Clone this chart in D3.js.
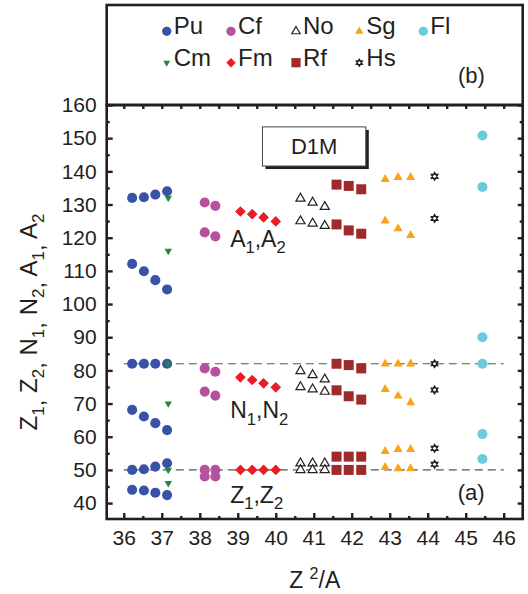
<!DOCTYPE html>
<html><head><meta charset="utf-8">
<script src="https://cdn.jsdelivr.net/npm/d3@7"></script>
<style>
html,body{margin:0;padding:0;background:#fff;}
svg{display:block;font-family:"Liberation Sans",Arial,Helvetica,sans-serif;}
</style></head><body>
<svg id="chart" width="528" height="594"></svg>
<script>
// ---------- data: fission fragment Z, N, A versus Z^2/A (D1M) ----------
const puX  = [36.22, 36.53, 36.83, 37.14];
const puA1 = [132.0, 132.2, 133.0, 134.0];
const puA2 = [112.1, 109.9, 107.2, 104.4];
const puN1 = [82, 82, 82, 82];
const puN2 = [68.1, 66.1, 64.1, 62.0];
const puZ1 = [50.0, 50.2, 51.0, 52.0];
const puZ2 = [44.0, 43.8, 43.1, 42.4];

const cmX  = [37.17];
const cmA1 = [132];
const cmA2 = [116];
const cmN1 = [82];
const cmN2 = [70];
const cmZ1 = [50];
const cmZ2 = [46];

const cfX  = [38.13, 38.41];
const cfA1 = [130.6, 129.6];
const cfA2 = [121.6, 120.4];
const cfN1 = [80.6, 79.6];
const cfN2 = [73.6, 72.4];
const cfZ1 = [50, 50];
const cfZ2 = [48, 48];

const fmX  = [39.07, 39.38, 39.68, 40.0];
const fmA1 = [127.9, 127.1, 126.1, 124.9];
const fmA2 = [127.9, 127.1, 126.1, 124.9];
const fmN1 = [77.9, 77.1, 76.1, 74.9];
const fmN2 = [77.9, 77.1, 76.1, 74.9];
const fmZ1 = [50, 50, 50, 50];
const fmZ2 = [50, 50, 50, 50];

const noX  = [40.65, 40.97, 41.29];
const noA1 = [131.8, 130.6, 129.3];
const noA2 = [125.0, 124.3, 123.6];
const noN1 = [79.8, 78.6, 77.3];
const noN2 = [75.0, 74.3, 73.6];
const noZ1 = [52, 52, 52];
const noZ2 = [50, 50, 50];

const rfX  = [41.60, 41.92, 42.25];
const rfA1 = [136.0, 135.6, 134.6];
const rfA2 = [124.0, 122.2, 121.2];
const rfN1 = [82.0, 81.6, 80.6];
const rfN2 = [74.0, 72.2, 71.2];
const rfZ1 = [54, 54, 54];
const rfZ2 = [50, 50, 50];

const sgX  = [42.88, 43.22, 43.55];
const sgA1 = [137.6, 138.2, 138.2];
const sgA2 = [125.1, 122.7, 120.7];
const sgN1 = [82, 82, 82];
const sgN2 = [74.3, 72.3, 70.3];
const sgZ1 = [55.6, 56.2, 56.2];
const sgZ2 = [50.8, 50.4, 50.4];

const hsX  = [44.18];
const hsA1 = [138.5];
const hsA2 = [125.8];
const hsN1 = [82];
const hsN2 = [74.1];
const hsZ1 = [56.5];
const hsZ2 = [51.7];

const flX  = [45.44];
const flA1 = [150.8];
const flA2 = [135.3];
const flN1 = [90];
const flN2 = [82];
const flZ1 = [60.8];
const flZ2 = [53.3];

const xTicks = [36, 37, 38, 39, 40, 41, 42, 43, 44, 45, 46];
const yTicks = [40, 50, 60, 70, 80, 90, 100, 110, 120, 130, 140, 150, 160];
const magicLines = [82, 50];

// legend rows, in reading order
const legendRow1 = ["Pu", "Cf", "No", "Sg", "Fl"];
const legendRow2 = ["Cm", "Fm", "Rf", "Hs"];

// ---------- series table ----------
const series = [
  {name:"Pu", x:puX, vals:[puA1,puA2,puN1,puN2,puZ1,puZ2]},
  {name:"Cm", x:cmX, vals:[cmA1,cmA2,cmN1,cmN2,cmZ1,cmZ2]},
  {name:"Cf", x:cfX, vals:[cfA1,cfA2,cfN1,cfN2,cfZ1,cfZ2]},
  {name:"Fm", x:fmX, vals:[fmA1,fmA2,fmN1,fmN2,fmZ1,fmZ2]},
  {name:"No", x:noX, vals:[noA1,noA2,noN1,noN2,noZ1,noZ2]},
  {name:"Rf", x:rfX, vals:[rfA1,rfA2,rfN1,rfN2,rfZ1,rfZ2]},
  {name:"Sg", x:sgX, vals:[sgA1,sgA2,sgN1,sgN2,sgZ1,sgZ2]},
  {name:"Hs", x:hsX, vals:[hsA1,hsA2,hsN1,hsN2,hsZ1,hsZ2]},
  {name:"Fl", x:flX, vals:[flA1,flA2,flN1,flN2,flZ1,flZ2]}
];

// ---------- marker styles ----------
const hexagram = {
  draw(ctx, size) {
    const r = Math.sqrt(size) * 0.62;
    for (const off of [-90, 90]) {
      for (let i = 0; i < 3; i++) {
        const a = (off + i * 120) * Math.PI / 180;
        const px = r * Math.cos(a), py = r * Math.sin(a);
        if (i === 0) ctx.moveTo(px, py); else ctx.lineTo(px, py);
      }
      ctx.closePath();
    }
  }
};
const style = {
  Pu: {type:d3.symbolCircle,   size:80, fill:"#3752a6", stroke:"none", rot:0},
  Cm: {type:d3.symbolTriangle, size:24, fill:"#1f8a3e", stroke:"none", rot:180},
  Cf: {type:d3.symbolCircle,   size:80, fill:"#b5519f", stroke:"none", rot:0},
  Fm: {type:d3.symbolSquare,   size:52, fill:"#ec1c24", stroke:"none", rot:45},
  No: {type:d3.symbolTriangle, size:36, fill:"#fff",    stroke:"#231f20", rot:0},
  Rf: {type:d3.symbolSquare,   size:100,fill:"#9e2a2b", stroke:"none", rot:0},
  Sg: {type:d3.symbolTriangle, size:36, fill:"#f6a31e", stroke:"none", rot:0},
  Hs: {type:hexagram,          size:40, fill:"none",    stroke:"#231f20", rot:0},
  Fl: {type:d3.symbolCircle,   size:80, fill:"#6bcbdc", stroke:"none", rot:0}
};

// ---------- layout ----------
const ink = "#231f20";
const svg = d3.select("#chart");
const L = 106.7, R = 522.7, T = 105, B = 519;
const x = d3.scaleLinear().domain([35.55, 46.5]).range([L, R]);
const y = d3.scaleLinear().domain([35.2, 160]).range([B, T]);

// legend panel (b)
svg.append("rect").attr("x", L).attr("y", 5).attr("width", R - L).attr("height", T - 5)
  .attr("fill", "none").attr("stroke", ink).attr("stroke-width", 2.6);

// magic-number guide lines
svg.append("g").selectAll("line").data(magicLines).join("line")
  .attr("x1", x(36)).attr("x2", x(46))
  .attr("y1", d => y(d)).attr("y2", d => y(d))
  .attr("stroke", "#555").attr("stroke-width", 1.1).attr("stroke-dasharray", "8,5");

// axes with inward ticks
function styleAxis(g) {
  g.select(".domain").remove();
  g.selectAll(".tick line").attr("stroke", ink).attr("stroke-width", 2.4);
  g.selectAll(".tick text").attr("fill", ink).attr("font-size", 21)
    .attr("font-family", '"Liberation Sans", Arial, sans-serif');
}
const halfX = d3.range(35.5, 46.6, 0.5).filter(v => v > 35.55 && v < 46.5 && v % 1 !== 0);
const fiveY = d3.range(45, 160, 10);

svg.append("g").attr("transform", `translate(0,${B})`)
  .call(d3.axisBottom(x).tickValues(xTicks).tickSize(-6).tickPadding(11).tickFormat(d3.format("d")))
  .call(styleAxis);
svg.append("g").attr("transform", `translate(0,${B})`)
  .call(d3.axisBottom(x).tickValues(halfX).tickSize(-3).tickFormat(""))
  .call(styleAxis);
svg.append("g").attr("transform", `translate(0,${T})`)
  .call(d3.axisTop(x).tickValues(xTicks.concat(halfX)).tickSize(-4).tickFormat(""))
  .call(styleAxis);
svg.append("g").attr("transform", `translate(${L},0)`)
  .call(d3.axisLeft(y).tickValues(yTicks).tickSize(-6).tickPadding(10).tickFormat(d3.format("d")))
  .call(styleAxis);
svg.append("g").attr("transform", `translate(${L},0)`)
  .call(d3.axisLeft(y).tickValues(fiveY).tickSize(-3).tickFormat(""))
  .call(styleAxis);
svg.append("g").attr("transform", `translate(${R},0)`)
  .call(d3.axisRight(y).tickValues(yTicks).tickSize(-5).tickFormat(""))
  .call(styleAxis);
svg.append("g").attr("transform", `translate(${R},0)`)
  .call(d3.axisRight(y).tickValues(fiveY).tickSize(-3).tickFormat(""))
  .call(styleAxis);

// plot frame (a)
svg.append("rect").attr("x", L).attr("y", T).attr("width", R - L).attr("height", B - T)
  .attr("fill", "none").attr("stroke", ink).attr("stroke-width", 2.6);

// model label box with drop shadow
const box = {x0: 39.65, x1: 42.37, y0: 153.4, y1: 141.6};
svg.append("rect").attr("x", x(box.x0) + 3).attr("y", y(box.y0) + 3)
  .attr("width", x(box.x1) - x(box.x0)).attr("height", y(box.y1) - y(box.y0)).attr("fill", ink);
svg.append("rect").attr("x", x(box.x0)).attr("y", y(box.y0))
  .attr("width", x(box.x1) - x(box.x0)).attr("height", y(box.y1) - y(box.y0))
  .attr("fill", "#fff").attr("stroke", "#444").attr("stroke-width", 1);
svg.append("text").attr("x", (x(box.x0) + x(box.x1)) / 2).attr("y", y(147.5) + 8)
  .attr("text-anchor", "middle").attr("font-size", 22).attr("fill", ink).text("D1M");

// markers
const sym = d3.symbol();
const pts = [];
series.forEach(s => s.vals.forEach(arr => arr.forEach((v, i) => pts.push({name: s.name, x: s.x[i], y: v}))));
svg.append("g").selectAll("path").data(pts).join("path")
  .attr("d", d => sym.type(style[d.name].type).size(style[d.name].size)())
  .attr("transform", d => `translate(${x(d.x)},${y(d.y)}) rotate(${style[d.name].rot})`)
  .attr("fill", d => style[d.name].fill)
  .attr("stroke", d => style[d.name].stroke)
  .attr("stroke-width", 1.2);

// group labels with subscripts
function subLabel(px, py, parts, fs) {
  const t = svg.append("text").attr("x", px).attr("y", py).attr("font-size", fs).attr("fill", ink);
  parts.forEach(p => {
    const ts = t.append("tspan").text(p[0]);
    if (p[1] === "sub") ts.attr("font-size", fs * 0.72).attr("dy", fs * 0.28);
    else if (p[1] === "back") ts.attr("dy", -fs * 0.28);
  });
  return t;
}
const grp = [["A", "A"], ["N", "N"], ["Z", "Z"]];
const grpY = [117.3, 65.5, 40.1];
grp.forEach((g, k) => {
  subLabel(x(38.80), y(grpY[k]), [[g[0]], ["1", "sub"], [",", "back"], [g[1]], ["2", "sub"]], 23);
});

svg.append("text").attr("x", x(44.79)).attr("y", y(40.9)).attr("font-size", 22).attr("fill", ink).text("(a)");
svg.append("text").attr("x", 458).attr("y", 83).attr("font-size", 22).attr("fill", ink).text("(b)");

// axis titles
const xt = svg.append("text").attr("x", (L + R) / 2 + 0).attr("y", 588)
  .attr("text-anchor", "middle").attr("font-size", 23).attr("fill", ink);
xt.append("tspan").text("Z ");
xt.append("tspan").text("2").attr("font-size", 16).attr("dy", -9);
xt.append("tspan").text("/A").attr("dy", 9);

const yt = svg.append("text").attr("transform", `translate(37,${(T + B) / 2 + 10}) rotate(-90)`)
  .attr("text-anchor", "middle").attr("font-size", 24).attr("fill", ink);
[["Z", "1"], ["Z", "2"], ["N", "1"], ["N", "2"], ["A", "1"], ["A", "2"]].forEach((p, i) => {
  yt.append("tspan").text(p[0]).attr("dy", i === 0 ? 0 : -7);
  yt.append("tspan").text(p[1]).attr("font-size", 17).attr("dy", 7);
  if (i < 5) yt.append("tspan").text(", ");
});

// legend
const legX = [166.7, 231, 296, 359.3, 423.3];
const legBase = [34.3, 65.7];
[legendRow1, legendRow2].forEach((row, r) => {
  row.forEach((name, c) => {
    const st = style[name];
    svg.append("path")
      .attr("d", sym.type(st.type).size(st.size * 0.85)())
      .attr("transform", `translate(${legX[c]},${legBase[r] - 3}) rotate(${st.rot})`)
      .attr("fill", st.fill).attr("stroke", st.stroke).attr("stroke-width", 1.2);
    svg.append("text").attr("x", legX[c] + 7).attr("y", legBase[r])
      .attr("font-size", 24).attr("fill", ink).text(name);
  });
});
</script>
</body></html>
